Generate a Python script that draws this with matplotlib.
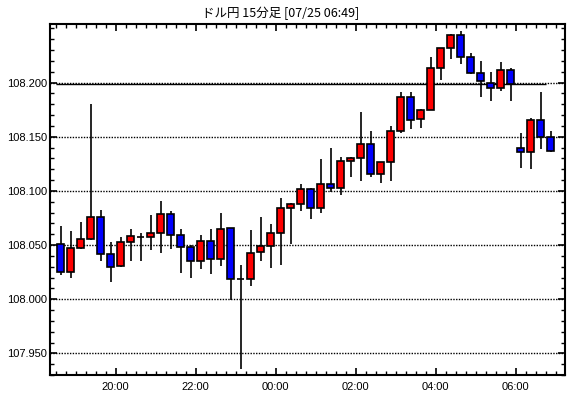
import matplotlib
matplotlib.use("Agg")
import matplotlib.pyplot as plt
from matplotlib.ticker import MultipleLocator, FixedLocator, FormatStrFormatter
import numpy as np

title = "ドル円 15分足 [07/25 06:49]"

# 15-minute candles from 18:30 to 06:45
opens = [108.051, 108.025, 108.047, 108.056, 108.076, 108.042, 108.031, 108.053, 108.057, 108.057,
         108.061, 108.079, 108.059, 108.048, 108.035, 108.054, 108.037, 108.066, 108.019, 108.019,
         108.044, 108.049, 108.061, 108.084, 108.088, 108.102, 108.084, 108.106, 108.103, 108.128,
         108.130, 108.143, 108.116, 108.127, 108.155, 108.187, 108.166, 108.175, 108.213, 108.232,
         108.244, 108.224, 108.209, 108.200, 108.195, 108.212, 108.140, 108.136, 108.165, 108.150]
highs = [108.068, 108.063, 108.071, 108.180, 108.082, 108.053, 108.057, 108.065, 108.061, 108.078,
         108.091, 108.081, 108.065, 108.050, 108.059, 108.065, 108.080, 108.066, 108.032, 108.064,
         108.076, 108.069, 108.093, 108.089, 108.106, 108.103, 108.129, 108.140, 108.131, 108.131,
         108.173, 108.155, 108.127, 108.160, 108.191, 108.191, 108.176, 108.224, 108.232, 108.245,
         108.248, 108.227, 108.220, 108.210, 108.219, 108.213, 108.153, 108.167, 108.191, 108.155]
lows = [108.022, 108.020, 108.046, 108.055, 108.035, 108.016, 108.030, 108.035, 108.035, 108.045,
        108.043, 108.046, 108.024, 108.020, 108.028, 108.023, 108.031, 107.999, 107.936, 108.012,
        108.035, 108.029, 108.032, 108.051, 108.081, 108.074, 108.080, 108.099, 108.096, 108.113,
        108.109, 108.113, 108.107, 108.109, 108.153, 108.157, 108.158, 108.175, 108.2025, 108.222,
        108.217, 108.208, 108.187, 108.183, 108.192, 108.183, 108.121, 108.120, 108.139, 108.136]
closes = [108.025, 108.047, 108.056, 108.076, 108.042, 108.030, 108.053, 108.058, 108.057, 108.061,
          108.079, 108.059, 108.048, 108.035, 108.054, 108.037, 108.065, 108.019, 108.019, 108.043,
          108.049, 108.061, 108.084, 108.088, 108.102, 108.084, 108.106, 108.103, 108.128, 108.130,
          108.143, 108.116, 108.127, 108.155, 108.187, 108.165, 108.175, 108.213, 108.232, 108.244,
          108.224, 108.209, 108.201, 108.195, 108.212, 108.199, 108.136, 108.165, 108.150, 108.137]

ref_price = 108.199
time_labels = ["20:00", "22:00", "00:00", "02:00", "04:00", "06:00"]
time_label_slots = [6, 14, 22, 30, 38, 46]
ytick_values = [107.95, 108.00, 108.05, 108.10, 108.15, 108.20]

fig = plt.figure(figsize=(5.70, 3.98), dpi=100)
ax = fig.add_axes([50/570, 1-375/398, 515/570, 351/398])

n = len(opens)
x = np.arange(n) + 0.5
o = np.array(opens); c = np.array(closes)
h = np.array(highs); l = np.array(lows)
colors = ['#ff0000' if cc > oo else ('#0000ff' if cc < oo else 'black') for oo, cc in zip(o, c)]

for v in ytick_values:
    ax.axhline(v, color='black', lw=1.0, ls=(0, (1, 1)), zorder=1)
ax.hlines(ref_price, 0, n - 1, color='black', lw=1.0, zorder=2)

ax.vlines(x, l, h, color='black', lw=1.2, zorder=3)
bottoms = np.minimum(o, c)
heights = np.abs(c - o)
ax.bar(x, heights, width=0.62, bottom=bottoms, color=colors, edgecolor='black', linewidth=1.2, zorder=4)

ax.set_xlim(-0.55, 50.95)
ax.set_ylim(107.930, 108.254)

ax.xaxis.set_major_locator(FixedLocator(time_label_slots))
ax.set_xticklabels(time_labels)
ax.xaxis.set_minor_locator(MultipleLocator(1))
ax.set_yticks(ytick_values)
ax.yaxis.set_major_formatter(FormatStrFormatter('%.3f'))
ax.yaxis.set_minor_locator(MultipleLocator(0.01))

ax.tick_params(axis='both', which='both', direction='in', top=True, right=True, colors='black')
ax.tick_params(axis='both', which='major', length=5, width=1.2)
ax.tick_params(axis='both', which='minor', length=3, width=1.0)
ax.tick_params(axis='x', which='major', pad=5)
ax.tick_params(axis='y', which='major', pad=2)
for lab in ax.get_xticklabels() + ax.get_yticklabels():
    lab.set_fontfamily('Liberation Sans')
    lab.set_fontsize(8)

for sp in ax.spines.values():
    sp.set_linewidth(1.5)
    sp.set_color('black')

fig.text(281/570, 1 - 13/398, title, ha='center', va='center', fontsize=9,
         family=['Noto Sans CJK JP', 'DejaVu Sans'])

fig.savefig('out.png', dpi=100, facecolor='white')
